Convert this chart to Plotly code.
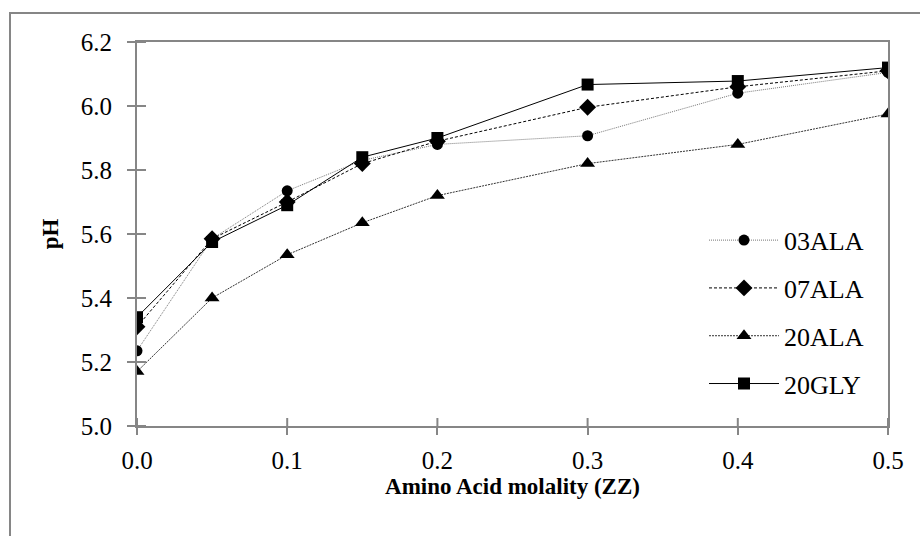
import plotly.graph_objects as go

molality = [0.0, 0.05, 0.1, 0.15, 0.2, 0.3, 0.4, 0.5]
ph_03ala = [5.235, 5.585, 5.735, 5.83, 5.88, 5.907, 6.04, 6.105]
ph_07ala = [5.31, 5.585, 5.70, 5.82, 5.89, 5.996, 6.06, 6.11]
ph_20ala = [5.17, 5.40, 5.535, 5.635, 5.72, 5.82, 5.88, 5.975]
ph_20gly = [5.34, 5.575, 5.69, 5.84, 5.90, 6.067, 6.078, 6.12]

series_names = ["03ALA", "07ALA", "20ALA", "20GLY"]
x_ticks = [0.0, 0.1, 0.2, 0.3, 0.4, 0.5]
y_ticks = [5.0, 5.2, 5.4, 5.6, 5.8, 6.0, 6.2]

FONT = "Liberation Serif, Times New Roman, serif"
AXIS_GRAY = "#868686"

styles = [
    dict(symbol="circle", size=11, color="#777777", dash="1px,1px"),
    dict(symbol="diamond", size=13, color="black", dash="3px,2px"),
    dict(symbol="triangle-up", size=13, color="#333333", dash="2px,1px"),
    dict(symbol="square", size=12, color="black", dash="solid"),
]
data = [ph_03ala, ph_07ala, ph_20ala, ph_20gly]

fig = go.Figure()
for name, ys, st in zip(series_names, data, styles):
    fig.add_trace(go.Scatter(
        x=molality, y=ys, name=name, mode="lines+markers",
        legendgroup=name,
        line=dict(color=st["color"], width=1, dash=st["dash"]),
        marker=dict(symbol=st["symbol"], size=st["size"], color="black"),
    ))

axis_common = dict(
    showline=True, linecolor=AXIS_GRAY, linewidth=2, mirror=True,
    showgrid=False, zeroline=False, tickcolor=AXIS_GRAY, tickwidth=2,
    tickfont=dict(family=FONT, size=25, color="black"),
)

fig.update_layout(
    width=920, height=536,
    margin=dict(l=137, r=32, t=42, b=110),
    paper_bgcolor="white", plot_bgcolor="white",
    font=dict(family=FONT, size=25, color="black"),
    xaxis=dict(
        range=[x_ticks[0], x_ticks[-1]], tickvals=x_ticks, tickformat=".1f",
        ticks="outside", ticklen=7, ticklabelstandoff=4,
        title=dict(text="<b>Amino Acid molality (ZZ)</b>", standoff=3,
                   font=dict(family=FONT, size=23)),
        **axis_common,
    ),
    yaxis=dict(
        range=[y_ticks[0], y_ticks[-1]], tickvals=y_ticks, tickformat=".1f",
        ticks="outside", ticklen=8, ticklabelstandoff=10,
        title=dict(text="<b>pH</b>", standoff=16, font=dict(family=FONT, size=23)),
        **axis_common,
    ),
    legend=dict(
        x=0.755, y=0.545, xanchor="left", yanchor="top",
        bgcolor="rgba(0,0,0,0)", borderwidth=0,
        font=dict(family=FONT, size=26, color="black"),
        itemwidth=70, tracegroupgap=11,
    ),
    showlegend=True,
)

# inner halves of the crossing tick marks, placed at the tick values
for xv in x_ticks:
    fig.add_shape(
        type="line", xref="x", yref="y", ysizemode="pixel", yanchor=y_ticks[0],
        x0=xv, x1=xv, y0=0, y1=8,
        line=dict(color=AXIS_GRAY, width=2), layer="above",
    )
for yv in y_ticks:
    fig.add_shape(
        type="line", xref="x", yref="y", xsizemode="pixel", xanchor=x_ticks[0],
        y0=yv, y1=yv, x0=0, x1=9,
        line=dict(color=AXIS_GRAY, width=2), layer="above",
    )

# outer chart frame (left and top visible, extends past canvas)
fig.add_shape(
    type="rect", xref="paper", yref="paper",
    x0=-127 / 751, y0=-140 / 384, x1=1.1, y1=1 + 29 / 384,
    line=dict(color=AXIS_GRAY, width=2), fillcolor="rgba(0,0,0,0)",
    layer="below",
)

fig.write_html("out.html")
